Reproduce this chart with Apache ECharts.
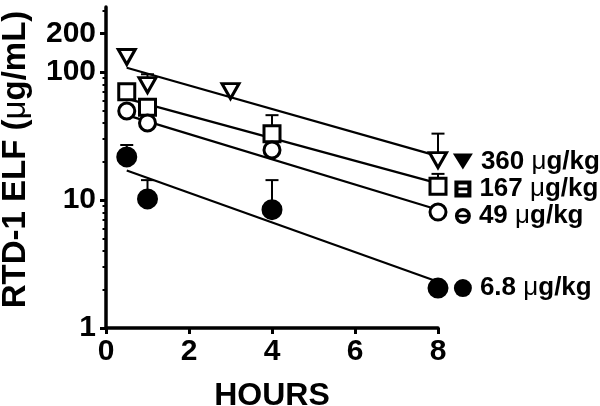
<!DOCTYPE html>
<html>
<head>
<meta charset="utf-8">
<title>RTD-1 ELF</title>
<script src="https://cdn.jsdelivr.net/npm/echarts@6/dist/echarts.min.js"></script>
<style>
  html, body { margin: 0; padding: 0; background: #fff; }
  #main { width: 600px; height: 406px; }
</style>
</head>
<body>
<div id="main"></div>
<script>
// measured points (hours, ug/mL)
var hours = [0.5, 1, 4, 8];
var hours360 = [0.5, 1, 3, 8];
var y360 = [131, 79, 71, 20.5];
var y167 = [70, 53, 33, 12.8];
var y49 = [49.6, 40, 24.6, 8.05];
var y68 = [21.7, 10.2, 8.4, 2.05];

// upward error bars: [hours, mean, mean + sd]
var err360 = [[1, 79, 96], [8, 20.5, 33]];
var err167 = [[4, 33, 46], [8, 12.8, 16]];
var err68 = [[0.5, 21.7, 26.9], [1, 10.2, 14.3], [4, 8.4, 14.3]];

// fitted lines, start and end
var fitHours = [0.5, 8];
var fit360 = [108, 22];
var fit167 = [62, 13.5];
var fit49 = [46, 8.4];
var fit68 = [17, 2.3];

// dose key placed right of the last points
var keyHour = 8.6;
var doses = ['360', '167', '49', '6.8'];
var keyY = [20, 12.2, 7.5, 2.05];

var yTicks = [1, 10, 100, 200];
var yMinor = [2, 3, 4, 5, 6, 7, 8, 9, 20, 30, 40, 50, 60, 70, 80, 90, 300];
var xTicks = [0, 2, 4, 6, 8];

var FONT = '"Liberation Sans", Arial, Helvetica, sans-serif';

function pairs(xs, ys) {
    return xs.map(function (x, i) { return [x, ys[i]]; });
}

function pointSeries(xs, ys, symbol, fill, rotate, size) {
    return {
        type: 'scatter',
        data: pairs(xs, ys),
        symbol: symbol,
        symbolSize: size,
        symbolRotate: rotate,
        z: 5,
        itemStyle: { color: fill, borderColor: '#000', borderWidth: 3, opacity: 1 }
    };
}

function fitSeries(ys) {
    return {
        type: 'line',
        data: pairs(fitHours, ys),
        symbol: 'none',
        z: 3,
        lineStyle: { color: '#000', width: 2.2 }
    };
}

function errSeries(data) {
    return {
        type: 'custom',
        data: data,
        z: 2,
        encode: { x: 0, y: [1, 2] },
        renderItem: function (params, api) {
            var lo = api.coord([api.value(0), api.value(1)]);
            var hi = api.coord([api.value(0), api.value(2)]);
            return {
                type: 'group',
                children: [
                    { type: 'line', shape: { x1: lo[0], y1: lo[1], x2: hi[0], y2: hi[1] }, style: { stroke: '#000', lineWidth: 2 } },
                    { type: 'line', shape: { x1: hi[0] - 6.5, y1: hi[1], x2: hi[0] + 6.5, y2: hi[1] }, style: { stroke: '#000', lineWidth: 2 } }
                ]
            };
        }
    };
}

// key symbols: square / circle with a bar through them
var barSquare = 'path://M0,0L10,0L10,10L0,10Z M2.4,2.4L2.4,4.2L7.6,4.2L7.6,2.4Z M2.4,5.8L2.4,7.6L7.6,7.6L7.6,5.8Z';
var barCircle = 'path://M5,0A5,5 0 1,1 5,10A5,5 0 1,1 5,0Z M2.2,4.2L7.8,4.2A2.9,2.9 0 0,0 2.2,4.2Z M7.8,5.8L2.2,5.8A2.9,2.9 0 0,0 7.8,5.8Z';
var keySymbols = ['triangle', barSquare, barCircle, 'circle'];
var keySizes = [[20, 16], 17, 16, 18];

function keySeries(i) {
    return {
        type: 'scatter',
        data: [[keyHour, keyY[i]]],
        symbol: keySymbols[i],
        symbolSize: keySizes[i],
        symbolRotate: i === 0 ? 180 : 0,
        clip: false,
        z: 5,
        itemStyle: { color: '#000', opacity: 1 },
        label: {
            show: true,
            position: 'right',
            distance: 8,
            formatter: '{b|' + doses[i] + ' }{m|\u03bc}{b|g/kg}',
            rich: {
                b: { fontFamily: FONT, fontWeight: 'bold', fontSize: 26, color: '#000' },
                m: { fontFamily: FONT, fontWeight: 'normal', fontSize: 26, color: '#000' }
            }
        }
    };
}

var chart = echarts.init(document.getElementById('main'));

var option = {
    animation: false,
    backgroundColor: '#fff',
    grid: { left: 106, right: 162, top: 7, bottom: 78, containLabel: false, outerBoundsMode: 'none' },
    xAxis: {
        type: 'value',
        min: 0,
        max: 8,
        interval: 2,
        name: 'HOURS',
        nameLocation: 'middle',
        nameGap: 52,
        nameTextStyle: { fontFamily: FONT, fontWeight: 'bold', fontSize: 32, color: '#000' },
        axisLine: { show: true, lineStyle: { color: '#000', width: 3.5 } },
        axisTick: { show: true, length: 6, lineStyle: { color: '#000', width: 3 }, customValues: xTicks },
        axisLabel: { fontFamily: FONT, fontWeight: 'bold', fontSize: 30, color: '#000', margin: 9, customValues: xTicks },
        splitLine: { show: false }
    },
    yAxis: [{
        type: 'log',
        logBase: 10,
        min: 1,
        max: 322,
        name: '{b|RTD-1 ELF (}{m|\u03bc}{b|g/mL)}',
        nameLocation: 'middle',
        nameGap: 74,
        nameTextStyle: {
            padding: [0, 0, 0, 16],
            rich: {
                b: { fontFamily: FONT, fontWeight: 'bold', fontSize: 33, color: '#000' },
                m: { fontFamily: FONT, fontWeight: 'normal', fontSize: 33, color: '#000' }
            }
        },
        axisLine: { show: true, lineStyle: { color: '#000', width: 3.5 } },
        axisTick: { show: true, length: 6, lineStyle: { color: '#000', width: 3 }, customValues: yTicks },
        axisLabel: { fontFamily: FONT, fontWeight: 'bold', fontSize: 30, color: '#000', margin: 10, customValues: yTicks },
        splitLine: { show: false }
    }, {
        type: 'log',
        logBase: 10,
        min: 1,
        max: 322,
        position: 'left',
        axisLine: { show: false },
        axisTick: { show: true, length: 3.5, lineStyle: { color: '#000', width: 2 }, customValues: yMinor },
        axisLabel: { show: false },
        splitLine: { show: false }
    }],
    series: [
        errSeries(err360),
        errSeries(err167),
        errSeries(err68),
        fitSeries(fit360),
        fitSeries(fit167),
        fitSeries(fit49),
        fitSeries(fit68),
        pointSeries(hours360, y360, 'triangle', '#fff', 180, [17, 15]),
        pointSeries(hours, y167, 'rect', '#fff', 0, 16),
        pointSeries(hours, y49, 'circle', '#fff', 0, 16),
        pointSeries(hours, y68, 'circle', '#000', 0, 18),
        keySeries(0),
        keySeries(1),
        keySeries(2),
        keySeries(3)
    ]
};

chart.setOption(option);
</script>
</body>
</html>
